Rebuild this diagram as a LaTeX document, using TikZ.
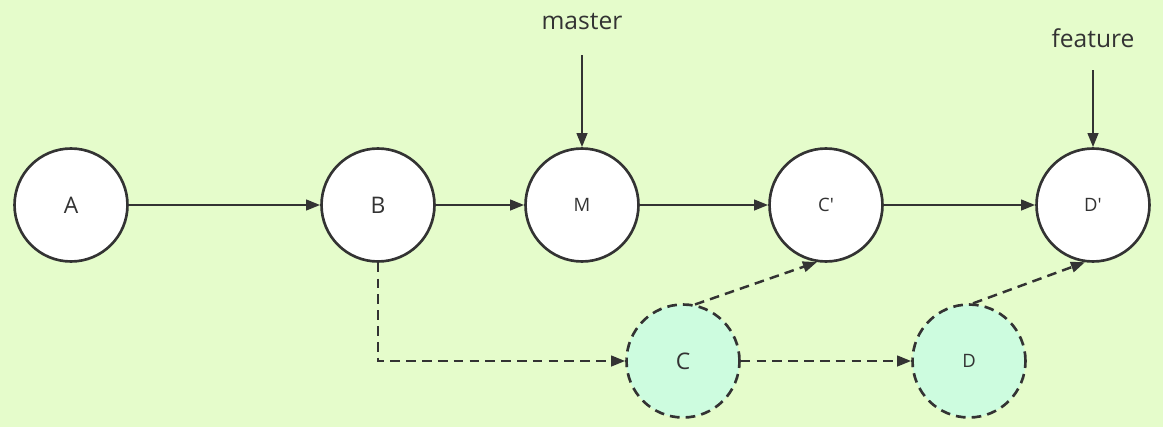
\documentclass[tikz,border=0pt]{standalone}
\usepackage{fontspec}
\setsansfont{Open Sans}
\usetikzlibrary{arrows.meta}
\definecolor{bgGreen}{HTML}{E5FCCB}
\definecolor{mintFill}{HTML}{CDFCDF}
\definecolor{inkGray}{HTML}{333333}
\tikzset{
	commit/.style={circle, draw=inkGray, line width=1.5pt, fill=white, minimum size=2.26cm, inner sep=0pt, font=\sffamily\fontsize{13}{13}\selectfont, text=inkGray},
	small/.style={font=\sffamily\fontsize{10.5}{10.5}\selectfont},
	moved/.style={fill=mintFill, dash pattern=on 5.5pt off 3.5pt},
	link/.style={draw=inkGray, line width=1.4pt, -{Triangle[length=8pt,width=6pt]}},
	dlink/.style={link, dash pattern=on 5.5pt off 3.5pt},
	branch/.style={font=\sffamily\fontsize{14}{14}\selectfont, text=inkGray}
}

\begin{document}
\begin{tikzpicture}[x=0.02cm, y=0.02cm]
		%%%%% START %%%%%
		
		\fill[bgGreen] (0, 0) rectangle (1163, 427);
		\useasboundingbox (0, 0) rectangle (1163, 427);
		
		\node[commit] (A) at (71, 222) {A};
		\node[commit] (B) at (378, 222) {B};
		\node[commit, small] (M) at (582, 222) {M};
		\node[commit, small] (C1) at (826, 222) {C\textquotesingle};
		\node[commit, small] (D1) at (1093, 222) {D\textquotesingle};
		
		\node[commit, moved] (C) at (683, 66) {C};
		\node[commit, moved, small] (D) at (969, 66) {D};
		
		\node[branch] (master) at (582, 405) {master};
		\node[branch] (feature) at (1093, 389) {feature};
		\coordinate (masterTip) at (582, 372);
		\coordinate (featureTip) at (1093, 357);
		
		\draw[link] (A) -- (B);
		\draw[link] (B) -- (M);
		\draw[link] (M) -- (C1);
		\draw[link] (C1) -- (D1);
		
		\draw[link] (masterTip) -- (M.north);
		\draw[link] (featureTip) -- (D1.north);
		
		\draw[dlink] (B.south) |- (C.west);
		\draw[dlink] (C) -- (D);
		\draw[dlink] (C.78) -- (C1.261);
		\draw[dlink] (D.86) -- (D1.262);
		
		%%%%% END %%%%%
	\end{tikzpicture}
\end{document}
